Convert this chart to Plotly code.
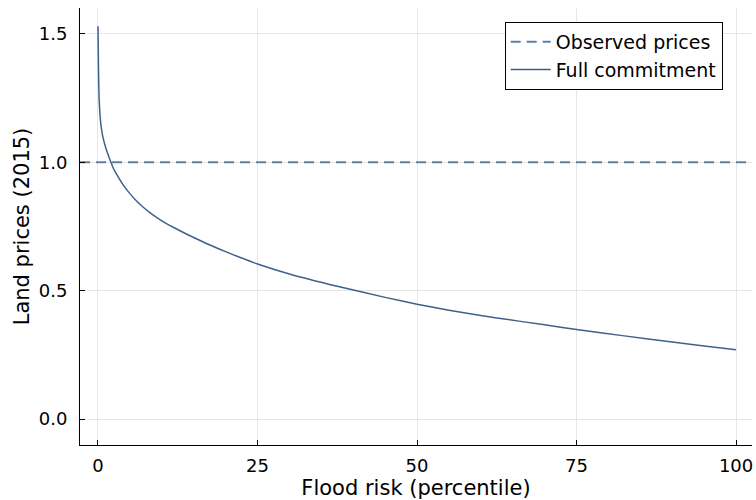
import plotly.graph_objects as go

# Data
flood_risk = [0, 0.05, 0.1, 0.15, 0.2, 0.3, 0.45, 0.63, 0.83, 1.0, 1.3, 1.6, 2.0,
              2.4, 3.0, 4.0, 5.0, 6.0, 7.0, 8.5, 10, 11.8, 14, 17, 20, 22.3, 25,
              30, 37.5, 45, 50, 55, 62.5, 70, 75, 82.5, 90, 95, 100]
full_commitment = [1.53, 1.42, 1.33, 1.27, 1.235, 1.19, 1.148, 1.117, 1.092, 1.075,
                   1.05, 1.028, 1.002, 0.977, 0.95, 0.91, 0.878, 0.85, 0.827, 0.797,
                   0.772, 0.747, 0.719, 0.684, 0.652, 0.629, 0.604, 0.565, 0.517,
                   0.474, 0.447, 0.424, 0.394, 0.367, 0.349, 0.324, 0.300, 0.285,
                   0.270]
observed_price = 1.0

x_range = [-2.82, 102.5]
y_range = [-0.101, 1.601]
x_ticks = [0, 25, 50, 75, 100]
y_ticks = [0.0, 0.5, 1.0, 1.5]
y_tick_text = ["0.0", "0.5", "1.0", "1.5"]

font_family = "DejaVu Sans"

fig = go.Figure()
fig.add_trace(go.Scatter(
    x=x_range, y=[observed_price, observed_price], mode="lines",
    name="Observed prices",
    line=dict(color="#5f7fa3", width=2, dash="10px,6px"),
))
fig.add_trace(go.Scatter(
    x=flood_risk, y=full_commitment, mode="lines", line_shape="spline",
    name="Full commitment",
    line=dict(color="#3f6189", width=1.5, smoothing=0.5),
))

axis_common = dict(
    showgrid=True, gridcolor="#e6e6e6", gridwidth=1,
    zeroline=False, showline=True, linecolor="black", linewidth=1,
    ticks="inside", ticklen=5, tickcolor="black", automargin=False,
    tickfont=dict(family=font_family, size=18, color="black"),
)

fig.update_layout(
    width=756, height=500,
    margin=dict(l=80, r=4, t=8, b=55),
    paper_bgcolor="white", plot_bgcolor="white",
    font=dict(family=font_family, color="black"),
    xaxis=dict(range=x_range, tickvals=x_ticks, ticklabelstandoff=4,
               title=dict(text="Flood risk (percentile)",
                          font=dict(family=font_family, size=21), standoff=4),
               **axis_common),
    yaxis=dict(range=y_range, tickvals=y_ticks, ticktext=y_tick_text,
               ticklabelstandoff=8,
               title=dict(text="Land prices (2015)",
                          font=dict(family=font_family, size=21), standoff=3),
               **axis_common),
    legend=dict(x=0.632, y=0.968, xanchor="left", yanchor="top",
                bgcolor="white", bordercolor="black", borderwidth=1,
                font=dict(family=font_family, size=19),
                tracegroupgap=0, itemwidth=40),
    showlegend=True,
)

fig.write_html("out.html", config={"displayModeBar": False},
               post_script="document.body.style.margin='0';")
